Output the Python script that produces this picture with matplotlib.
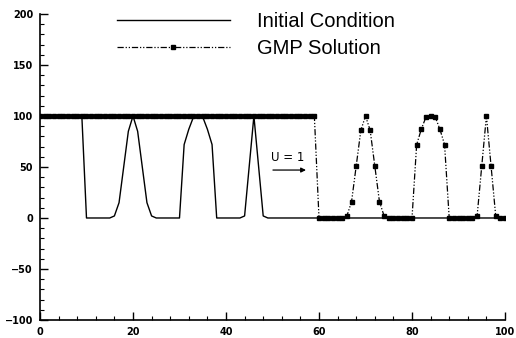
import matplotlib
matplotlib.use("Agg")
import matplotlib.pyplot as plt
from matplotlib.ticker import MultipleLocator

# grid points x = 0 .. 100, spacing 1
x = list(range(0, 101))

initial = [
    100, 100, 100, 100, 100, 100, 100, 100, 100, 100,   # 0-9
    0, 0, 0, 0, 0, 0,                                   # 10-15
    2, 15, 50, 85, 100, 85, 50, 15, 2,                  # 16-24
    0, 0, 0, 0, 0, 0,                                   # 25-30
    72, 87, 99, 100, 99, 87, 72,                        # 31-37
    0, 0, 0, 0, 0, 0,                                   # 38-43
    2, 51, 100, 51, 2,                                  # 44-48
    0, 0, 0, 0, 0, 0, 0, 0, 0, 0, 0, 0, 0, 0, 0, 0, 0,  # 49-65
    0, 0, 0, 0, 0, 0, 0, 0, 0, 0, 0, 0, 0, 0, 0, 0, 0,  # 66-82
    0, 0, 0, 0, 0, 0, 0, 0, 0, 0, 0, 0, 0, 0, 0, 0, 0,  # 83-99
    0,                                                  # 100
]

gmp = [
    100, 100, 100, 100, 100, 100, 100, 100, 100, 100,   # 0-9
    100, 100, 100, 100, 100, 100, 100, 100, 100, 100,   # 10-19
    100, 100, 100, 100, 100, 100, 100, 100, 100, 100,   # 20-29
    100, 100, 100, 100, 100, 100, 100, 100, 100, 100,   # 30-39
    100, 100, 100, 100, 100, 100, 100, 100, 100, 100,   # 40-49
    100, 100, 100, 100, 100, 100, 100, 100, 100, 100,   # 50-59
    0, 0, 0, 0, 0, 0,                                   # 60-65
    2, 16, 51, 86, 100, 86, 51, 16, 2,                  # 66-74
    0, 0, 0, 0, 0, 0,                                   # 75-80
    72, 87, 99, 100, 99, 87, 72,                        # 81-87
    0, 0, 0, 0, 0, 0,                                   # 88-93
    2, 51, 100, 51, 2,                                  # 94-98
    0, 0,                                               # 99-100
]

fig = plt.figure(figsize=(5.16, 3.38), dpi=100)
ax = fig.add_axes([0.0775, 0.0533, 0.9012, 0.9053])

ax.plot(x, initial, color="black", linewidth=1.0, label="Initial Condition")
ax.plot(x, gmp, color="black", linewidth=0.9, linestyle=(0, (5, 1.5, 1, 1.5, 1, 1.5)),
        marker="s", markersize=3.4, label="GMP Solution")

ax.annotate("", xy=(57.8, 47), xytext=(49.5, 47),
            arrowprops=dict(arrowstyle="-|>", color="black", lw=0.9,
                            mutation_scale=7))
ax.text(53.3, 59, "U = 1", ha="center", va="center", fontsize=8.5)

ax.set_xlim(0, 100)
ax.set_ylim(-100, 200)
ax.xaxis.set_major_locator(MultipleLocator(20))
ax.xaxis.set_minor_locator(MultipleLocator(4))
ax.yaxis.set_major_locator(MultipleLocator(50))
ax.yaxis.set_minor_locator(MultipleLocator(10))
ax.tick_params(which="major", direction="in", length=6, width=1.0, pad=5,
               labelsize=7, top=False, right=False)
ax.tick_params(which="minor", direction="in", length=3, width=0.8,
               top=False, right=False)
for lab in ax.get_xticklabels() + ax.get_yticklabels():
    lab.set_fontweight("bold")

ax.spines["top"].set_visible(False)
ax.spines["right"].set_visible(False)
ax.spines["left"].set_linewidth(1.2)
ax.spines["bottom"].set_linewidth(1.2)

ax.legend(loc="upper left", bbox_to_anchor=(117 / 516, 1 - 12 / 338),
          bbox_transform=fig.transFigure, frameon=False,
          borderpad=0, borderaxespad=0,
          prop={"family": "Liberation Sans", "size": 14.5}, numpoints=1,
          handlelength=5.6, handletextpad=1.35, labelspacing=0.4)

fig.savefig("out.png", dpi=100)
